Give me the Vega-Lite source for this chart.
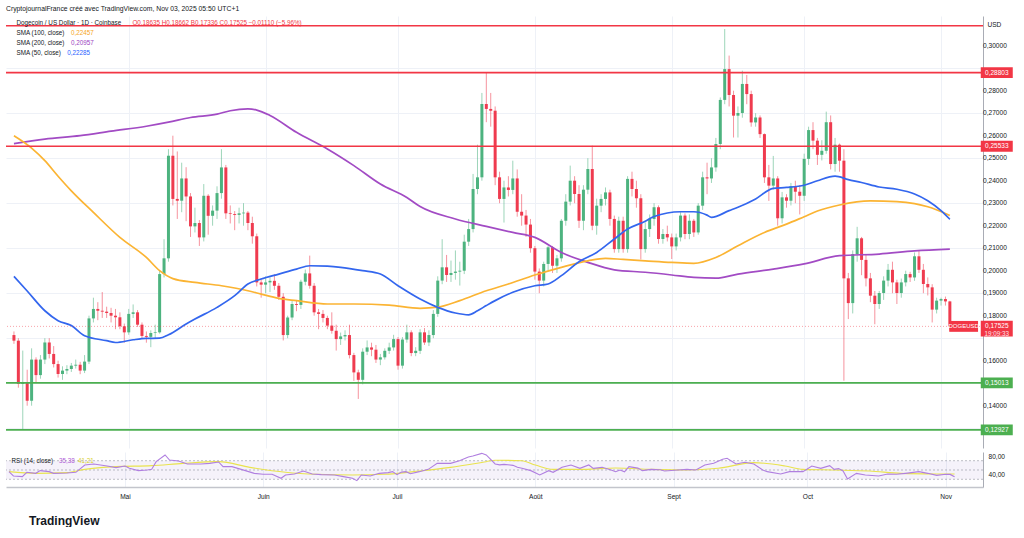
{
  "$schema": "https://vega.github.io/schema/vega-lite/v6.json",
  "background": "#ffffff",
  "padding": {"left": 5, "top": 6, "right": 0, "bottom": 0},
  "config": {
    "font": "Liberation Sans",
    "view": {"stroke": null},
    "locale": {
      "number": {"decimal": ",", "thousands": " ", "grouping": [3], "currency": ["", " €"]},
      "time": {
        "dateTime": "%A %e %B %Y à %X", "date": "%d/%m/%Y", "time": "%H:%M:%S", "periods": ["AM", "PM"],
        "days": ["dimanche", "lundi", "mardi", "mercredi", "jeudi", "vendredi", "samedi"],
        "shortDays": ["dim.", "lun.", "mar.", "mer.", "jeu.", "ven.", "sam."],
        "months": ["janvier", "février", "mars", "avril", "mai", "juin", "juillet", "août", "septembre", "octobre", "novembre", "décembre"],
        "shortMonths": ["Janv", "Févr", "Mars", "Avr", "Mai", "Juin", "Juil", "Août", "Sept", "Oct", "Nov", "Déc"]
      }
    }
  },
  "title": {"text": "CryptojournalFrance créé avec TradingView.com, Nov 03, 2025 05:50 UTC+1", "anchor": "start", "frame": "group", "fontSize": 6.8, "fontWeight": "normal", "color": "#131722", "offset": 3},
  "spacing": 3,
  "datasets": {
    "candles": [
      {"t":"2025-04-05","o":0.1714,"h":0.1730,"l":0.1675,"c":0.1689},
      {"t":"2025-04-06","o":0.1689,"h":0.1700,"l":0.1480,"c":0.1497},
      {"t":"2025-04-07","o":0.1497,"h":0.1645,"l":0.1295,"c":0.1505},
      {"t":"2025-04-08","o":0.1505,"h":0.1560,"l":0.1400,"c":0.1422},
      {"t":"2025-04-09","o":0.1422,"h":0.1655,"l":0.1400,"c":0.1605},
      {"t":"2025-04-10","o":0.1605,"h":0.1615,"l":0.1505,"c":0.1536},
      {"t":"2025-04-11","o":0.1536,"h":0.1625,"l":0.1520,"c":0.1605},
      {"t":"2025-04-12","o":0.1605,"h":0.1700,"l":0.1585,"c":0.1681},
      {"t":"2025-04-13","o":0.1681,"h":0.1700,"l":0.1610,"c":0.1630},
      {"t":"2025-04-14","o":0.1630,"h":0.1665,"l":0.1570,"c":0.1585},
      {"t":"2025-04-15","o":0.1585,"h":0.1600,"l":0.1525,"c":0.1541},
      {"t":"2025-04-16","o":0.1541,"h":0.1575,"l":0.1515,"c":0.1556},
      {"t":"2025-04-17","o":0.1556,"h":0.1580,"l":0.1540,"c":0.1563},
      {"t":"2025-04-18","o":0.1563,"h":0.1590,"l":0.1550,"c":0.1578},
      {"t":"2025-04-19","o":0.1578,"h":0.1605,"l":0.1565,"c":0.1582},
      {"t":"2025-04-20","o":0.1582,"h":0.1595,"l":0.1540,"c":0.1556},
      {"t":"2025-04-21","o":0.1556,"h":0.1625,"l":0.1545,"c":0.1596},
      {"t":"2025-04-22","o":0.1596,"h":0.1800,"l":0.1585,"c":0.1788},
      {"t":"2025-04-23","o":0.1788,"h":0.1880,"l":0.1770,"c":0.1830},
      {"t":"2025-04-24","o":0.1830,"h":0.1860,"l":0.1780,"c":0.1822},
      {"t":"2025-04-25","o":0.1822,"h":0.1905,"l":0.1790,"c":0.1818},
      {"t":"2025-04-26","o":0.1818,"h":0.1840,"l":0.1790,"c":0.1812},
      {"t":"2025-04-27","o":0.1812,"h":0.1835,"l":0.1770,"c":0.1800},
      {"t":"2025-04-28","o":0.1800,"h":0.1830,"l":0.1740,"c":0.1793},
      {"t":"2025-04-29","o":0.1793,"h":0.1815,"l":0.1740,"c":0.1753},
      {"t":"2025-04-30","o":0.1753,"h":0.1765,"l":0.1680,"c":0.1726},
      {"t":"2025-05-01","o":0.1726,"h":0.1830,"l":0.1715,"c":0.1808},
      {"t":"2025-05-02","o":0.1808,"h":0.1850,"l":0.1790,"c":0.1815},
      {"t":"2025-05-03","o":0.1815,"h":0.1825,"l":0.1750,"c":0.1760},
      {"t":"2025-05-04","o":0.1760,"h":0.1770,"l":0.1700,"c":0.1710},
      {"t":"2025-05-05","o":0.1710,"h":0.1730,"l":0.1680,"c":0.1706},
      {"t":"2025-05-06","o":0.1706,"h":0.1735,"l":0.1660,"c":0.1723},
      {"t":"2025-05-07","o":0.1723,"h":0.1760,"l":0.1700,"c":0.1726},
      {"t":"2025-05-08","o":0.1726,"h":0.2000,"l":0.1720,"c":0.1985},
      {"t":"2025-05-09","o":0.1985,"h":0.2140,"l":0.1970,"c":0.2055},
      {"t":"2025-05-10","o":0.2055,"h":0.2540,"l":0.2040,"c":0.2511},
      {"t":"2025-05-11","o":0.2511,"h":0.2600,"l":0.2290,"c":0.2319},
      {"t":"2025-05-12","o":0.2319,"h":0.2530,"l":0.2230,"c":0.2311},
      {"t":"2025-05-13","o":0.2311,"h":0.2480,"l":0.2260,"c":0.2410},
      {"t":"2025-05-14","o":0.2410,"h":0.2460,"l":0.2220,"c":0.2330},
      {"t":"2025-05-15","o":0.2330,"h":0.2345,"l":0.2150,"c":0.2197},
      {"t":"2025-05-16","o":0.2197,"h":0.2280,"l":0.2170,"c":0.2212},
      {"t":"2025-05-17","o":0.2212,"h":0.2225,"l":0.2110,"c":0.2148},
      {"t":"2025-05-18","o":0.2148,"h":0.2385,"l":0.2130,"c":0.2333},
      {"t":"2025-05-19","o":0.2333,"h":0.2340,"l":0.2160,"c":0.2244},
      {"t":"2025-05-20","o":0.2244,"h":0.2290,"l":0.2200,"c":0.2267},
      {"t":"2025-05-21","o":0.2267,"h":0.2375,"l":0.2230,"c":0.2345},
      {"t":"2025-05-22","o":0.2345,"h":0.2540,"l":0.2320,"c":0.2459},
      {"t":"2025-05-23","o":0.2459,"h":0.2470,"l":0.2230,"c":0.2255},
      {"t":"2025-05-24","o":0.2255,"h":0.2290,"l":0.2210,"c":0.2252},
      {"t":"2025-05-25","o":0.2252,"h":0.2265,"l":0.2180,"c":0.2248},
      {"t":"2025-05-26","o":0.2248,"h":0.2280,"l":0.2210,"c":0.2255},
      {"t":"2025-05-27","o":0.2255,"h":0.2300,"l":0.2200,"c":0.2258},
      {"t":"2025-05-28","o":0.2258,"h":0.2265,"l":0.2180,"c":0.2212},
      {"t":"2025-05-29","o":0.2212,"h":0.2240,"l":0.2120,"c":0.2153},
      {"t":"2025-05-30","o":0.2153,"h":0.2165,"l":0.1930,"c":0.1948},
      {"t":"2025-05-31","o":0.1948,"h":0.1965,"l":0.1880,"c":0.1938},
      {"t":"2025-06-01","o":0.1938,"h":0.1975,"l":0.1900,"c":0.1948},
      {"t":"2025-06-02","o":0.1948,"h":0.1970,"l":0.1905,"c":0.1955},
      {"t":"2025-06-03","o":0.1955,"h":0.1985,"l":0.1915,"c":0.1933},
      {"t":"2025-06-04","o":0.1933,"h":0.1945,"l":0.1870,"c":0.1884},
      {"t":"2025-06-05","o":0.1884,"h":0.1900,"l":0.1690,"c":0.1714},
      {"t":"2025-06-06","o":0.1714,"h":0.1800,"l":0.1700,"c":0.1792},
      {"t":"2025-06-07","o":0.1792,"h":0.1865,"l":0.1780,"c":0.1852},
      {"t":"2025-06-08","o":0.1852,"h":0.1870,"l":0.1820,"c":0.1848},
      {"t":"2025-06-09","o":0.1848,"h":0.1960,"l":0.1830,"c":0.1951},
      {"t":"2025-06-10","o":0.1951,"h":0.2005,"l":0.1935,"c":0.1988},
      {"t":"2025-06-11","o":0.1988,"h":0.2067,"l":0.1920,"c":0.1933},
      {"t":"2025-06-12","o":0.1933,"h":0.1945,"l":0.1800,"c":0.1815},
      {"t":"2025-06-13","o":0.1815,"h":0.1830,"l":0.1740,"c":0.1808},
      {"t":"2025-06-14","o":0.1808,"h":0.1825,"l":0.1770,"c":0.1790},
      {"t":"2025-06-15","o":0.1790,"h":0.1800,"l":0.1740,"c":0.1756},
      {"t":"2025-06-16","o":0.1756,"h":0.1815,"l":0.1720,"c":0.1733},
      {"t":"2025-06-17","o":0.1733,"h":0.1760,"l":0.1645,"c":0.1696},
      {"t":"2025-06-18","o":0.1696,"h":0.1725,"l":0.1670,"c":0.1708},
      {"t":"2025-06-19","o":0.1708,"h":0.1735,"l":0.1690,"c":0.1714},
      {"t":"2025-06-20","o":0.1714,"h":0.1760,"l":0.1610,"c":0.1625},
      {"t":"2025-06-21","o":0.1625,"h":0.1635,"l":0.1510,"c":0.1548},
      {"t":"2025-06-22","o":0.1548,"h":0.1560,"l":0.1430,"c":0.1515},
      {"t":"2025-06-23","o":0.1515,"h":0.1655,"l":0.1495,"c":0.1640},
      {"t":"2025-06-24","o":0.1640,"h":0.1690,"l":0.1625,"c":0.1659},
      {"t":"2025-06-25","o":0.1659,"h":0.1680,"l":0.1620,"c":0.1649},
      {"t":"2025-06-26","o":0.1649,"h":0.1670,"l":0.1590,"c":0.1605},
      {"t":"2025-06-27","o":0.1605,"h":0.1630,"l":0.1580,"c":0.1615},
      {"t":"2025-06-28","o":0.1615,"h":0.1655,"l":0.1605,"c":0.1644},
      {"t":"2025-06-29","o":0.1644,"h":0.1680,"l":0.1630,"c":0.1659},
      {"t":"2025-06-30","o":0.1659,"h":0.1715,"l":0.1645,"c":0.1696},
      {"t":"2025-07-01","o":0.1696,"h":0.1705,"l":0.1560,"c":0.1578},
      {"t":"2025-07-02","o":0.1578,"h":0.1705,"l":0.1565,"c":0.1694},
      {"t":"2025-07-03","o":0.1694,"h":0.1760,"l":0.1680,"c":0.1726},
      {"t":"2025-07-04","o":0.1726,"h":0.1735,"l":0.1620,"c":0.1634},
      {"t":"2025-07-05","o":0.1634,"h":0.1660,"l":0.1620,"c":0.1644},
      {"t":"2025-07-06","o":0.1644,"h":0.1740,"l":0.1630,"c":0.1726},
      {"t":"2025-07-07","o":0.1726,"h":0.1745,"l":0.1670,"c":0.1681},
      {"t":"2025-07-08","o":0.1681,"h":0.1735,"l":0.1665,"c":0.1714},
      {"t":"2025-07-09","o":0.1714,"h":0.1825,"l":0.1700,"c":0.1808},
      {"t":"2025-07-10","o":0.1808,"h":0.1975,"l":0.1795,"c":0.1956},
      {"t":"2025-07-11","o":0.1956,"h":0.2140,"l":0.1940,"c":0.2015},
      {"t":"2025-07-12","o":0.2015,"h":0.2070,"l":0.1950,"c":0.1981},
      {"t":"2025-07-13","o":0.1981,"h":0.2045,"l":0.1950,"c":0.1990},
      {"t":"2025-07-14","o":0.1990,"h":0.2090,"l":0.1960,"c":0.1996},
      {"t":"2025-07-15","o":0.1996,"h":0.2040,"l":0.1934,"c":0.2000},
      {"t":"2025-07-16","o":0.2000,"h":0.2160,"l":0.1985,"c":0.2129},
      {"t":"2025-07-17","o":0.2129,"h":0.2230,"l":0.2110,"c":0.2185},
      {"t":"2025-07-18","o":0.2185,"h":0.2430,"l":0.2170,"c":0.2363},
      {"t":"2025-07-19","o":0.2363,"h":0.2560,"l":0.2340,"c":0.2415},
      {"t":"2025-07-20","o":0.2415,"h":0.2790,"l":0.2400,"c":0.2741},
      {"t":"2025-07-21","o":0.2741,"h":0.2882,"l":0.2660,"c":0.2719},
      {"t":"2025-07-22","o":0.2719,"h":0.2790,"l":0.2640,"c":0.2711},
      {"t":"2025-07-23","o":0.2711,"h":0.2730,"l":0.2380,"c":0.2415},
      {"t":"2025-07-24","o":0.2415,"h":0.2440,"l":0.2300,"c":0.2319},
      {"t":"2025-07-25","o":0.2319,"h":0.2400,"l":0.2214,"c":0.2370},
      {"t":"2025-07-26","o":0.2370,"h":0.2420,"l":0.2330,"c":0.2359},
      {"t":"2025-07-27","o":0.2359,"h":0.2489,"l":0.2340,"c":0.2410},
      {"t":"2025-07-28","o":0.2410,"h":0.2450,"l":0.2240,"c":0.2262},
      {"t":"2025-07-29","o":0.2262,"h":0.2340,"l":0.2200,"c":0.2245},
      {"t":"2025-07-30","o":0.2245,"h":0.2270,"l":0.2150,"c":0.2205},
      {"t":"2025-07-31","o":0.2205,"h":0.2230,"l":0.2080,"c":0.2100},
      {"t":"2025-08-01","o":0.2100,"h":0.2110,"l":0.1960,"c":0.1996},
      {"t":"2025-08-02","o":0.1996,"h":0.2010,"l":0.1900,"c":0.1956},
      {"t":"2025-08-03","o":0.1956,"h":0.2040,"l":0.1930,"c":0.2030},
      {"t":"2025-08-04","o":0.2030,"h":0.2110,"l":0.2000,"c":0.2104},
      {"t":"2025-08-05","o":0.2104,"h":0.2110,"l":0.1990,"c":0.2022},
      {"t":"2025-08-06","o":0.2022,"h":0.2070,"l":0.1990,"c":0.2055},
      {"t":"2025-08-07","o":0.2055,"h":0.2230,"l":0.2040,"c":0.2222},
      {"t":"2025-08-08","o":0.2222,"h":0.2340,"l":0.2200,"c":0.2307},
      {"t":"2025-08-09","o":0.2307,"h":0.2467,"l":0.2290,"c":0.2400},
      {"t":"2025-08-10","o":0.2400,"h":0.2420,"l":0.2300,"c":0.2341},
      {"t":"2025-08-11","o":0.2341,"h":0.2380,"l":0.2190,"c":0.2222},
      {"t":"2025-08-12","o":0.2222,"h":0.2380,"l":0.2180,"c":0.2360},
      {"t":"2025-08-13","o":0.2360,"h":0.2500,"l":0.2340,"c":0.2452},
      {"t":"2025-08-14","o":0.2452,"h":0.2556,"l":0.2180,"c":0.2200},
      {"t":"2025-08-15","o":0.2200,"h":0.2320,"l":0.2160,"c":0.2289},
      {"t":"2025-08-16","o":0.2289,"h":0.2340,"l":0.2260,"c":0.2319},
      {"t":"2025-08-17","o":0.2319,"h":0.2370,"l":0.2290,"c":0.2348},
      {"t":"2025-08-18","o":0.2348,"h":0.2360,"l":0.2200,"c":0.2230},
      {"t":"2025-08-19","o":0.2230,"h":0.2245,"l":0.2080,"c":0.2096},
      {"t":"2025-08-20","o":0.2096,"h":0.2240,"l":0.2080,"c":0.2222},
      {"t":"2025-08-21","o":0.2222,"h":0.2240,"l":0.2080,"c":0.2096},
      {"t":"2025-08-22","o":0.2096,"h":0.2420,"l":0.2080,"c":0.2408},
      {"t":"2025-08-23","o":0.2408,"h":0.2440,"l":0.2330,"c":0.2363},
      {"t":"2025-08-24","o":0.2363,"h":0.2400,"l":0.2280,"c":0.2322},
      {"t":"2025-08-25","o":0.2322,"h":0.2340,"l":0.2050,"c":0.2096},
      {"t":"2025-08-26","o":0.2096,"h":0.2215,"l":0.2080,"c":0.2185},
      {"t":"2025-08-27","o":0.2185,"h":0.2250,"l":0.2150,"c":0.2230},
      {"t":"2025-08-28","o":0.2230,"h":0.2300,"l":0.2200,"c":0.2282},
      {"t":"2025-08-29","o":0.2282,"h":0.2290,"l":0.2120,"c":0.2141},
      {"t":"2025-08-30","o":0.2141,"h":0.2185,"l":0.2120,"c":0.2163},
      {"t":"2025-08-31","o":0.2163,"h":0.2200,"l":0.2130,"c":0.2148},
      {"t":"2025-09-01","o":0.2148,"h":0.2165,"l":0.2052,"c":0.2108},
      {"t":"2025-09-02","o":0.2108,"h":0.2165,"l":0.2090,"c":0.2148},
      {"t":"2025-09-03","o":0.2148,"h":0.2260,"l":0.2130,"c":0.2245},
      {"t":"2025-09-04","o":0.2245,"h":0.2255,"l":0.2140,"c":0.2163},
      {"t":"2025-09-05","o":0.2163,"h":0.2250,"l":0.2140,"c":0.2222},
      {"t":"2025-09-06","o":0.2222,"h":0.2230,"l":0.2150,"c":0.2170},
      {"t":"2025-09-07","o":0.2170,"h":0.2300,"l":0.2160,"c":0.2289},
      {"t":"2025-09-08","o":0.2289,"h":0.2440,"l":0.2270,"c":0.2415},
      {"t":"2025-09-09","o":0.2415,"h":0.2480,"l":0.2340,"c":0.2410},
      {"t":"2025-09-10","o":0.2410,"h":0.2500,"l":0.2390,"c":0.2459},
      {"t":"2025-09-11","o":0.2459,"h":0.2590,"l":0.2440,"c":0.2563},
      {"t":"2025-09-12","o":0.2563,"h":0.2770,"l":0.2540,"c":0.2759},
      {"t":"2025-09-13","o":0.2759,"h":0.3074,"l":0.2740,"c":0.2896},
      {"t":"2025-09-14","o":0.2896,"h":0.2956,"l":0.2730,"c":0.2781},
      {"t":"2025-09-15","o":0.2781,"h":0.2800,"l":0.2592,"c":0.2689},
      {"t":"2025-09-16","o":0.2689,"h":0.2730,"l":0.2592,"c":0.2701},
      {"t":"2025-09-17","o":0.2701,"h":0.2889,"l":0.2680,"c":0.2830},
      {"t":"2025-09-18","o":0.2830,"h":0.2870,"l":0.2740,"c":0.2785},
      {"t":"2025-09-19","o":0.2785,"h":0.2800,"l":0.2640,"c":0.2659},
      {"t":"2025-09-20","o":0.2659,"h":0.2700,"l":0.2640,"c":0.2681},
      {"t":"2025-09-21","o":0.2681,"h":0.2690,"l":0.2590,"c":0.2607},
      {"t":"2025-09-22","o":0.2607,"h":0.2610,"l":0.2390,"c":0.2415},
      {"t":"2025-09-23","o":0.2415,"h":0.2470,"l":0.2310,"c":0.2378},
      {"t":"2025-09-24","o":0.2378,"h":0.2510,"l":0.2360,"c":0.2410},
      {"t":"2025-09-25","o":0.2410,"h":0.2420,"l":0.2200,"c":0.2233},
      {"t":"2025-09-26","o":0.2233,"h":0.2350,"l":0.2210,"c":0.2326},
      {"t":"2025-09-27","o":0.2326,"h":0.2340,"l":0.2280,"c":0.2311},
      {"t":"2025-09-28","o":0.2311,"h":0.2390,"l":0.2290,"c":0.2375},
      {"t":"2025-09-29","o":0.2375,"h":0.2400,"l":0.2300,"c":0.2351},
      {"t":"2025-09-30","o":0.2351,"h":0.2380,"l":0.2250,"c":0.2333},
      {"t":"2025-10-01","o":0.2333,"h":0.2520,"l":0.2310,"c":0.2497},
      {"t":"2025-10-02","o":0.2497,"h":0.2640,"l":0.2470,"c":0.2625},
      {"t":"2025-10-03","o":0.2625,"h":0.2660,"l":0.2540,"c":0.2578},
      {"t":"2025-10-04","o":0.2578,"h":0.2590,"l":0.2470,"c":0.2515},
      {"t":"2025-10-05","o":0.2515,"h":0.2580,"l":0.2490,"c":0.2533},
      {"t":"2025-10-06","o":0.2533,"h":0.2707,"l":0.2520,"c":0.2660},
      {"t":"2025-10-07","o":0.2660,"h":0.2690,"l":0.2450,"c":0.2474},
      {"t":"2025-10-08","o":0.2474,"h":0.2590,"l":0.2440,"c":0.2560},
      {"t":"2025-10-09","o":0.2560,"h":0.2565,"l":0.2440,"c":0.2489},
      {"t":"2025-10-10","o":0.2489,"h":0.2540,"l":0.1511,"c":0.1966},
      {"t":"2025-10-11","o":0.1966,"h":0.1990,"l":0.1785,"c":0.1856},
      {"t":"2025-10-12","o":0.1856,"h":0.2090,"l":0.1810,"c":0.2074},
      {"t":"2025-10-13","o":0.2074,"h":0.2195,"l":0.2040,"c":0.2144},
      {"t":"2025-10-14","o":0.2144,"h":0.2150,"l":0.1980,"c":0.2048},
      {"t":"2025-10-15","o":0.2048,"h":0.2070,"l":0.1930,"c":0.1966},
      {"t":"2025-10-16","o":0.1966,"h":0.1990,"l":0.1860,"c":0.1889},
      {"t":"2025-10-17","o":0.1889,"h":0.1910,"l":0.1762,"c":0.1852},
      {"t":"2025-10-18","o":0.1852,"h":0.1910,"l":0.1830,"c":0.1901},
      {"t":"2025-10-19","o":0.1901,"h":0.1975,"l":0.1870,"c":0.1956},
      {"t":"2025-10-20","o":0.1956,"h":0.2030,"l":0.1930,"c":0.2004},
      {"t":"2025-10-21","o":0.2004,"h":0.2040,"l":0.1900,"c":0.1948},
      {"t":"2025-10-22","o":0.1948,"h":0.1960,"l":0.1852,"c":0.1901},
      {"t":"2025-10-23","o":0.1901,"h":0.1965,"l":0.1880,"c":0.1948},
      {"t":"2025-10-24","o":0.1948,"h":0.2000,"l":0.1930,"c":0.1985},
      {"t":"2025-10-25","o":0.1985,"h":0.1995,"l":0.1950,"c":0.1970},
      {"t":"2025-10-26","o":0.1970,"h":0.2081,"l":0.1955,"c":0.2064},
      {"t":"2025-10-27","o":0.2064,"h":0.2090,"l":0.1990,"c":0.2004},
      {"t":"2025-10-28","o":0.2004,"h":0.2030,"l":0.1900,"c":0.1941},
      {"t":"2025-10-29","o":0.1941,"h":0.1970,"l":0.1890,"c":0.1926},
      {"t":"2025-10-30","o":0.1926,"h":0.1940,"l":0.1770,"c":0.1827},
      {"t":"2025-10-31","o":0.1827,"h":0.1880,"l":0.1810,"c":0.1867},
      {"t":"2025-11-01","o":0.1867,"h":0.1880,"l":0.1845,"c":0.1874},
      {"t":"2025-11-02","o":0.1874,"h":0.1885,"l":0.1845,"c":0.18635},
      {"t":"2025-11-03","o":0.18635,"h":0.18662,"l":0.17336,"c":0.17525}
    ],
    "sma200": [
      {"t":"2025-04-05","v":0.2565},{"t":"2025-04-12","v":0.2585},{"t":"2025-04-20","v":0.2600},{"t":"2025-04-27","v":0.2620},
      {"t":"2025-05-05","v":0.2642},{"t":"2025-05-10","v":0.2660},{"t":"2025-05-15","v":0.2681},{"t":"2025-05-21","v":0.2696},
      {"t":"2025-05-24","v":0.2711},{"t":"2025-05-28","v":0.2719},{"t":"2025-05-30","v":0.2714},{"t":"2025-06-02","v":0.2690},
      {"t":"2025-06-08","v":0.2615},{"t":"2025-06-15","v":0.2541},{"t":"2025-06-21","v":0.2467},{"t":"2025-06-27","v":0.2385},
      {"t":"2025-07-03","v":0.2325},{"t":"2025-07-06","v":0.2285},{"t":"2025-07-14","v":0.2230},{"t":"2025-07-21","v":0.2197},
      {"t":"2025-07-27","v":0.2170},{"t":"2025-08-01","v":0.2148},{"t":"2025-08-07","v":0.2081},{"t":"2025-08-13","v":0.2037},
      {"t":"2025-08-19","v":0.2004},{"t":"2025-08-26","v":0.1993},{"t":"2025-09-01","v":0.1981},{"t":"2025-09-06","v":0.1970},
      {"t":"2025-09-11","v":0.1967},{"t":"2025-09-16","v":0.1985},{"t":"2025-09-24","v":0.2007},{"t":"2025-10-01","v":0.2030},
      {"t":"2025-10-09","v":0.2067},{"t":"2025-10-18","v":0.2074},{"t":"2025-10-26","v":0.2088},{"t":"2025-11-03","v":0.20957}
    ],
    "sma100": [
      {"t":"2025-04-05","v":0.2600},{"t":"2025-04-09","v":0.2545},{"t":"2025-04-12","v":0.2489},{"t":"2025-04-15","v":0.2420},
      {"t":"2025-04-18","v":0.2355},{"t":"2025-04-23","v":0.2259},{"t":"2025-04-29","v":0.2148},{"t":"2025-05-05","v":0.2059},
      {"t":"2025-05-08","v":0.2000},{"t":"2025-05-11","v":0.1965},{"t":"2025-05-16","v":0.1948},{"t":"2025-05-22","v":0.1933},
      {"t":"2025-05-28","v":0.1911},{"t":"2025-05-31","v":0.1896},{"t":"2025-06-04","v":0.1877},{"t":"2025-06-08","v":0.1867},
      {"t":"2025-06-15","v":0.1852},{"t":"2025-06-21","v":0.1852},{"t":"2025-06-29","v":0.1847},{"t":"2025-07-06","v":0.1833},
      {"t":"2025-07-10","v":0.1838},{"t":"2025-07-15","v":0.1867},{"t":"2025-07-21","v":0.1911},{"t":"2025-07-26","v":0.1941},
      {"t":"2025-08-01","v":0.1981},{"t":"2025-08-07","v":0.2015},{"t":"2025-08-13","v":0.2044},{"t":"2025-08-17","v":0.2055},
      {"t":"2025-08-21","v":0.2050},{"t":"2025-08-26","v":0.2044},{"t":"2025-09-01","v":0.2037},{"t":"2025-09-06","v":0.2033},
      {"t":"2025-09-11","v":0.2059},{"t":"2025-09-16","v":0.2111},{"t":"2025-09-22","v":0.2170},{"t":"2025-09-27","v":0.2207},
      {"t":"2025-10-01","v":0.2240},{"t":"2025-10-04","v":0.2265},{"t":"2025-10-09","v":0.2292},{"t":"2025-10-16","v":0.2310},
      {"t":"2025-10-22","v":0.2307},{"t":"2025-10-26","v":0.2298},{"t":"2025-10-29","v":0.2284},{"t":"2025-11-03","v":0.22457}
    ],
    "sma50": [
      {"t":"2025-04-05","v":0.1975},{"t":"2025-04-08","v":0.1910},{"t":"2025-04-12","v":0.1822},{"t":"2025-04-15","v":0.1778},
      {"t":"2025-04-18","v":0.1756},{"t":"2025-04-21","v":0.1711},{"t":"2025-04-26","v":0.1689},{"t":"2025-04-28","v":0.1681},
      {"t":"2025-05-02","v":0.1693},{"t":"2025-05-05","v":0.1699},{"t":"2025-05-08","v":0.1700},{"t":"2025-05-10","v":0.1715},
      {"t":"2025-05-14","v":0.1763},{"t":"2025-05-16","v":0.1785},{"t":"2025-05-21","v":0.1837},{"t":"2025-05-25","v":0.1889},
      {"t":"2025-05-28","v":0.1941},{"t":"2025-05-31","v":0.1963},{"t":"2025-06-04","v":0.1985},{"t":"2025-06-08","v":0.2007},
      {"t":"2025-06-11","v":0.2022},{"t":"2025-06-15","v":0.2020},{"t":"2025-06-18","v":0.2015},{"t":"2025-06-23","v":0.2000},
      {"t":"2025-06-27","v":0.1985},{"t":"2025-07-01","v":0.1933},{"t":"2025-07-06","v":0.1874},{"t":"2025-07-10","v":0.1837},
      {"t":"2025-07-14","v":0.1812},{"t":"2025-07-17","v":0.1804},{"t":"2025-07-19","v":0.1822},{"t":"2025-07-21","v":0.1845},
      {"t":"2025-07-23","v":0.1867},{"t":"2025-07-27","v":0.1904},{"t":"2025-08-01","v":0.1933},{"t":"2025-08-04","v":0.1941},
      {"t":"2025-08-07","v":0.1978},{"t":"2025-08-11","v":0.2040},{"t":"2025-08-15","v":0.2081},{"t":"2025-08-19","v":0.2141},
      {"t":"2025-08-22","v":0.2185},{"t":"2025-08-26","v":0.2220},{"t":"2025-08-28","v":0.2241},{"t":"2025-09-03","v":0.2262},
      {"t":"2025-09-06","v":0.2262},{"t":"2025-09-09","v":0.2247},{"t":"2025-09-10","v":0.2237},{"t":"2025-09-14","v":0.2267},
      {"t":"2025-09-16","v":0.2282},{"t":"2025-09-20","v":0.2319},{"t":"2025-09-24","v":0.2366},{"t":"2025-09-27","v":0.2370},
      {"t":"2025-10-01","v":0.2380},{"t":"2025-10-04","v":0.2400},{"t":"2025-10-08","v":0.2420},{"t":"2025-10-11","v":0.2405},
      {"t":"2025-10-14","v":0.2392},{"t":"2025-10-18","v":0.2372},{"t":"2025-10-22","v":0.2362},{"t":"2025-10-26","v":0.2341},
      {"t":"2025-10-29","v":0.2311},{"t":"2025-11-01","v":0.2267},{"t":"2025-11-03","v":0.22285}
    ],
    "levels": [
      {"p":0.3089,"kind":"résistance"},{"p":0.28803,"kind":"résistance"},{"p":0.25533,"kind":"résistance"},
      {"p":0.15013,"kind":"support"},{"p":0.12927,"kind":"support"}
    ],
    "pricelabels": [
      {"v":0.14},{"v":0.16},{"v":0.18},{"v":0.19},{"v":0.20},{"v":0.21},{"v":0.22},{"v":0.23},
      {"v":0.24},{"v":0.25},{"v":0.26},{"v":0.27},{"v":0.28},{"v":0.30}
    ],
    "rsi": [
      {"t":"2025-04-05","r":46.4},{"t":"2025-04-06","r":37.1},{"t":"2025-04-08","r":35.7},{"t":"2025-04-09","r":45},
      {"t":"2025-04-11","r":42.8},{"t":"2025-04-12","r":48.6},{"t":"2025-04-14","r":46.4},{"t":"2025-04-15","r":42.8},
      {"t":"2025-04-18","r":43.5},{"t":"2025-04-20","r":45},{"t":"2025-04-22","r":60.8},{"t":"2025-04-24","r":62.9},
      {"t":"2025-04-27","r":58.6},{"t":"2025-04-29","r":55},{"t":"2025-05-01","r":58.6},{"t":"2025-05-02","r":53.6},
      {"t":"2025-05-04","r":48.6},{"t":"2025-05-06","r":50},{"t":"2025-05-07","r":51.4},{"t":"2025-05-08","r":67.9},
      {"t":"2025-05-10","r":82.3},{"t":"2025-05-11","r":71.5},{"t":"2025-05-13","r":69.3},{"t":"2025-05-15","r":62.9},
      {"t":"2025-05-18","r":62.9},{"t":"2025-05-20","r":64.3},{"t":"2025-05-22","r":67.2},{"t":"2025-05-23","r":57.2},
      {"t":"2025-05-25","r":57.2},{"t":"2025-05-28","r":48.6},{"t":"2025-05-30","r":42.8},{"t":"2025-06-01","r":40.7},
      {"t":"2025-06-03","r":40.7},{"t":"2025-06-05","r":32.1},{"t":"2025-06-06","r":39.3},{"t":"2025-06-08","r":41.4},
      {"t":"2025-06-10","r":47.8},{"t":"2025-06-12","r":41.4},{"t":"2025-06-14","r":40},{"t":"2025-06-17","r":39.3},
      {"t":"2025-06-19","r":35.7},{"t":"2025-06-21","r":32.1},{"t":"2025-06-22","r":27.1},{"t":"2025-06-23","r":39.3},
      {"t":"2025-06-25","r":37.1},{"t":"2025-06-27","r":42.8},{"t":"2025-06-29","r":44.3},{"t":"2025-06-30","r":46.4},
      {"t":"2025-07-01","r":40},{"t":"2025-07-02","r":45.5},{"t":"2025-07-03","r":46.4},{"t":"2025-07-04","r":42},
      {"t":"2025-07-06","r":46.4},{"t":"2025-07-08","r":51.4},{"t":"2025-07-10","r":64.3},{"t":"2025-07-13","r":64.3},
      {"t":"2025-07-15","r":70},{"t":"2025-07-17","r":78},{"t":"2025-07-18","r":80.1},{"t":"2025-07-20","r":85.8},
      {"t":"2025-07-21","r":82.3},{"t":"2025-07-23","r":62.9},{"t":"2025-07-24","r":61},{"t":"2025-07-25","r":62},
      {"t":"2025-07-27","r":60},{"t":"2025-07-28","r":55.7},{"t":"2025-07-29","r":53.6},{"t":"2025-07-31","r":48.6},
      {"t":"2025-08-02","r":39.3},{"t":"2025-08-04","r":48.6},{"t":"2025-08-05","r":45},{"t":"2025-08-07","r":55.7},
      {"t":"2025-08-09","r":60.8},{"t":"2025-08-11","r":53.6},{"t":"2025-08-13","r":60.8},{"t":"2025-08-14","r":53.6},
      {"t":"2025-08-16","r":55.7},{"t":"2025-08-18","r":50},{"t":"2025-08-19","r":46.4},{"t":"2025-08-20","r":50},
      {"t":"2025-08-21","r":46},{"t":"2025-08-22","r":57.2},{"t":"2025-08-24","r":54},{"t":"2025-08-25","r":48.6},
      {"t":"2025-08-27","r":51.4},{"t":"2025-08-29","r":50.5},{"t":"2025-08-30","r":47.8},{"t":"2025-09-02","r":50},
      {"t":"2025-09-04","r":51.4},{"t":"2025-09-06","r":50},{"t":"2025-09-08","r":60.8},{"t":"2025-09-10","r":64.3},
      {"t":"2025-09-12","r":73},{"t":"2025-09-13","r":75.1},{"t":"2025-09-15","r":62.9},{"t":"2025-09-17","r":66.5},
      {"t":"2025-09-19","r":62.9},{"t":"2025-09-21","r":50},{"t":"2025-09-22","r":46.4},{"t":"2025-09-25","r":41.4},
      {"t":"2025-09-27","r":46.4},{"t":"2025-09-30","r":46.4},{"t":"2025-10-02","r":58.6},{"t":"2025-10-04","r":53.6},
      {"t":"2025-10-06","r":59.3},{"t":"2025-10-07","r":51.4},{"t":"2025-10-08","r":53},{"t":"2025-10-09","r":48},
      {"t":"2025-10-10","r":30.6},{"t":"2025-10-12","r":42.8},{"t":"2025-10-14","r":39.3},{"t":"2025-10-17","r":37.1},
      {"t":"2025-10-19","r":41.4},{"t":"2025-10-21","r":40.7},{"t":"2025-10-23","r":42.8},{"t":"2025-10-26","r":46.4},
      {"t":"2025-10-28","r":42.8},{"t":"2025-10-30","r":38.5},{"t":"2025-11-01","r":40.7},{"t":"2025-11-02","r":40.5},
      {"t":"2025-11-03","r":35.38}
    ],
    "rsima": [
      {"t":"2025-04-05","r":46.4},{"t":"2025-04-11","r":42.8},{"t":"2025-04-18","r":44.3},{"t":"2025-04-22","r":51.4},
      {"t":"2025-04-29","r":57.2},{"t":"2025-05-07","r":59.3},{"t":"2025-05-14","r":64.3},{"t":"2025-05-22","r":67.9},
      {"t":"2025-05-29","r":55.7},{"t":"2025-06-06","r":45},{"t":"2025-06-13","r":40.7},{"t":"2025-06-21","r":39.3},
      {"t":"2025-06-28","r":40.7},{"t":"2025-07-06","r":47.8},{"t":"2025-07-13","r":55.7},{"t":"2025-07-21","r":67.9},
      {"t":"2025-07-23","r":71},{"t":"2025-07-29","r":70},{"t":"2025-08-01","r":60.8},{"t":"2025-08-05","r":51.4},
      {"t":"2025-08-12","r":51.4},{"t":"2025-08-19","r":54.3},{"t":"2025-08-27","r":51.4},{"t":"2025-09-04","r":50},
      {"t":"2025-09-11","r":53.6},{"t":"2025-09-19","r":65.8},{"t":"2025-09-26","r":58.6},{"t":"2025-09-30","r":51.4},
      {"t":"2025-10-07","r":50},{"t":"2025-10-15","r":47.8},{"t":"2025-10-22","r":42.8},{"t":"2025-10-30","r":41.4},
      {"t":"2025-11-03","r":41.21}
    ]
  },
  "vconcat": [
    {
      "width": 977,
      "height": 432,
      "layer": [
        {
          "data": {"name": "candles"},
          "mark": {"type": "rule", "strokeWidth": 1, "opacity": 0.55},
          "encoding": {
            "x": {"field": "t", "type": "temporal", "scale": {"type": "utc", "domain": [{"year": 2025, "month": 4, "date": 4, "hours": 8, "utc": true}, {"year": 2025, "month": 11, "date": 9, "hours": 9, "utc": true}]},
              "axis": {"orient": "bottom", "values": [{"year": 2025, "month": 5, "date": 1, "utc": true}, {"year": 2025, "month": 6, "date": 1, "utc": true}, {"year": 2025, "month": 7, "date": 1, "utc": true}, {"year": 2025, "month": 8, "date": 1, "utc": true}, {"year": 2025, "month": 9, "date": 1, "utc": true}, {"year": 2025, "month": 10, "date": 1, "utc": true}, {"year": 2025, "month": 11, "date": 1, "utc": true}], "labels": false, "ticks": false, "domain": false, "grid": true, "gridColor": "#eef1f7", "title": null}},
            "y": {"field": "l", "type": "quantitative", "scale": {"domain": [0.1212, 0.3132], "zero": false, "nice": false},
              "axis": {"orient": "right", "values": [0.13, 0.14, 0.15, 0.16, 0.17, 0.18, 0.19, 0.2, 0.21, 0.22, 0.23, 0.24, 0.25, 0.26, 0.27, 0.28, 0.29, 0.3], "labels": false, "grid": true, "gridColor": "#eef1f7", "ticks": false, "domain": true, "domainColor": "#a9acb5", "title": null}},
            "y2": {"field": "h"},
            "color": {"condition": {"test": "datum.c < datum.o", "value": "#ef3b4f"}, "value": "#4db37f"}
          }
        },
        {
          "data": {"name": "candles"},
          "mark": {"type": "bar", "size": 3},
          "encoding": {
            "x": {"field": "t", "type": "temporal"},
            "y": {"field": "o", "type": "quantitative"},
            "y2": {"field": "c"},
            "color": {"condition": {"test": "datum.c < datum.o", "value": "#ef3b4f"}, "value": "#4db37f"}
          }
        },
        {
          "data": {"name": "sma200"},
          "mark": {"type": "line", "color": "#a24bc4", "strokeWidth": 1.7, "interpolate": "monotone"},
          "encoding": {"x": {"field": "t", "type": "temporal"}, "y": {"field": "v", "type": "quantitative"}}
        },
        {
          "data": {"name": "sma100"},
          "mark": {"type": "line", "color": "#fbb433", "strokeWidth": 1.7, "interpolate": "monotone"},
          "encoding": {"x": {"field": "t", "type": "temporal"}, "y": {"field": "v", "type": "quantitative"}}
        },
        {
          "data": {"name": "sma50"},
          "mark": {"type": "line", "color": "#3366ee", "strokeWidth": 1.7, "interpolate": "monotone"},
          "encoding": {"x": {"field": "t", "type": "temporal"}, "y": {"field": "v", "type": "quantitative"}}
        },
        {
          "data": {"name": "levels"},
          "mark": {"type": "rule", "strokeWidth": 1.6},
          "encoding": {
            "y": {"field": "p", "type": "quantitative"},
            "color": {"condition": {"test": "datum.p > 0.2", "value": "#f23645"}, "value": "#4caf50"}
          }
        },
        {
          "data": {"values": [{}]},
          "mark": {"type": "rule", "color": "#f23645", "strokeDash": [1, 2], "opacity": 0.45},
          "encoding": {"y": {"datum": 0.17525, "type": "quantitative"}}
        },
        {
          "data": {"name": "pricelabels"},
          "mark": {"type": "text", "color": "#131722", "fontSize": 6.6, "align": "left", "baseline": "middle"},
          "encoding": {
            "x": {"datum": {"year": 2025, "month": 11, "date": 10, "hours": 12, "utc": true}, "type": "temporal"},
            "y": {"field": "v", "type": "quantitative"},
            "text": {"field": "v", "type": "quantitative", "format": ".5f"}
          }
        },
        {
          "data": {"name": "levels"},
          "transform": [{"filter": "datum.p < 0.3"}],
          "mark": {"type": "point", "shape": "M-1,-0.34H1V0.34H-1Z", "filled": true, "size": 1024, "opacity": 1},
          "encoding": {
            "x": {"datum": {"year": 2025, "month": 11, "date": 13, "hours": 15, "utc": true}, "type": "temporal"},
            "y": {"field": "p", "type": "quantitative"},
            "color": {"condition": {"test": "datum.p > 0.2", "value": "#f23645"}, "value": "#4caf50"}
          }
        },
        {
          "data": {"name": "levels"},
          "transform": [{"filter": "datum.p < 0.3"}],
          "mark": {"type": "text", "color": "#ffffff", "fontSize": 6.5, "align": "center", "baseline": "middle"},
          "encoding": {
            "x": {"datum": {"year": 2025, "month": 11, "date": 13, "hours": 15, "utc": true}, "type": "temporal"},
            "y": {"field": "p", "type": "quantitative"},
            "text": {"field": "p", "type": "quantitative", "format": ".5f"}
          }
        },
        {
          "data": {"values": [{}]},
          "mark": {"type": "point", "shape": "M-1,-0.35H1V0.63H-1Z", "filled": true, "size": 1024, "opacity": 1, "color": "#f23645"},
          "encoding": {
            "x": {"datum": {"year": 2025, "month": 11, "date": 13, "hours": 15, "utc": true}, "type": "temporal"},
            "y": {"datum": 0.17525, "type": "quantitative"}
          }
        },
        {
          "data": {"values": [{}]},
          "mark": {"type": "text", "color": "#ffffff", "fontSize": 6.5, "align": "center", "baseline": "middle", "text": "0,17525"},
          "encoding": {
            "x": {"datum": {"year": 2025, "month": 11, "date": 13, "hours": 15, "utc": true}, "type": "temporal"},
            "y": {"datum": 0.17525, "type": "quantitative"}
          }
        },
        {
          "data": {"values": [{}]},
          "mark": {"type": "text", "color": "#fde3e6", "fontSize": 6.3, "align": "center", "baseline": "middle", "dy": 7.5, "text": "19:09:33"},
          "encoding": {
            "x": {"datum": {"year": 2025, "month": 11, "date": 13, "hours": 15, "utc": true}, "type": "temporal"},
            "y": {"datum": 0.17525, "type": "quantitative"}
          }
        },
        {
          "data": {"values": [{}]},
          "mark": {"type": "point", "shape": "M-0.9,-0.34H0.9V0.34H-0.9Z", "filled": true, "size": 1024, "opacity": 1, "color": "#f23645"},
          "encoding": {
            "x": {"datum": {"year": 2025, "month": 11, "date": 6, "hours": 3, "utc": true}, "type": "temporal"},
            "y": {"datum": 0.17525, "type": "quantitative"}
          }
        },
        {
          "data": {"values": [{}]},
          "mark": {"type": "text", "color": "#ffffff", "fontSize": 6, "align": "center", "baseline": "middle", "text": "DOGEUSD"},
          "encoding": {
            "x": {"datum": {"year": 2025, "month": 11, "date": 6, "hours": 3, "utc": true}, "type": "temporal"},
            "y": {"datum": 0.17525, "type": "quantitative"}
          }
        },
        {
          "data": {"values": [{}]},
          "mark": {"type": "text", "color": "#131722", "fontSize": 6.6, "align": "left", "baseline": "middle", "text": "USD"},
          "encoding": {
            "x": {"datum": {"year": 2025, "month": 11, "date": 11, "hours": 12, "utc": true}, "type": "temporal"},
            "y": {"datum": 0.3094, "type": "quantitative"}
          }
        },
        {
          "data": {"values": [{}]},
          "mark": {"type": "text", "color": "#131722", "fontSize": 6.3, "align": "left", "baseline": "middle", "text": "Dogecoin / US Dollar · 1D · Coinbase"},
          "encoding": {
            "x": {"datum": {"year": 2025, "month": 4, "date": 5, "hours": 14, "utc": true}, "type": "temporal"},
            "y": {"datum": 0.30996, "type": "quantitative"}
          }
        },
        {
          "data": {"values": [{}]},
          "mark": {"type": "text", "color": "#f23645", "fontSize": 6.3, "align": "left", "baseline": "middle", "text": "O0,18635  H0,18662  B0,17336  C0,17525  −0,01110 (−5,96%)"},
          "encoding": {
            "x": {"datum": {"year": 2025, "month": 5, "date": 1, "hours": 20, "utc": true}, "type": "temporal"},
            "y": {"datum": 0.30996, "type": "quantitative"}
          }
        },
        {
          "data": {"values": [{}]},
          "mark": {"type": "text", "color": "#131722", "fontSize": 6.3, "align": "left", "baseline": "middle", "text": "SMA (100, close)"},
          "encoding": {
            "x": {"datum": {"year": 2025, "month": 4, "date": 5, "hours": 14, "utc": true}, "type": "temporal"},
            "y": {"datum": 0.30551, "type": "quantitative"}
          }
        },
        {
          "data": {"values": [{}]},
          "mark": {"type": "text", "color": "#131722", "fontSize": 6.3, "align": "left", "baseline": "middle", "text": "SMA (200, close)"},
          "encoding": {
            "x": {"datum": {"year": 2025, "month": 4, "date": 5, "hours": 14, "utc": true}, "type": "temporal"},
            "y": {"datum": 0.30107, "type": "quantitative"}
          }
        },
        {
          "data": {"values": [{}]},
          "mark": {"type": "text", "color": "#131722", "fontSize": 6.3, "align": "left", "baseline": "middle", "text": "SMA (50, close)"},
          "encoding": {
            "x": {"datum": {"year": 2025, "month": 4, "date": 5, "hours": 14, "utc": true}, "type": "temporal"},
            "y": {"datum": 0.29676, "type": "quantitative"}
          }
        },
        {
          "data": {"values": [{}]},
          "mark": {"type": "text", "color": "#f5a623", "fontSize": 6.3, "align": "left", "baseline": "middle", "text": "0,22457"},
          "encoding": {
            "x": {"datum": {"year": 2025, "month": 4, "date": 17, "hours": 22, "utc": true}, "type": "temporal"},
            "y": {"datum": 0.30551, "type": "quantitative"}
          }
        },
        {
          "data": {"values": [{}]},
          "mark": {"type": "text", "color": "#9c3fbf", "fontSize": 6.3, "align": "left", "baseline": "middle", "text": "0,20957"},
          "encoding": {
            "x": {"datum": {"year": 2025, "month": 4, "date": 17, "hours": 22, "utc": true}, "type": "temporal"},
            "y": {"datum": 0.30107, "type": "quantitative"}
          }
        },
        {
          "data": {"values": [{}]},
          "mark": {"type": "text", "color": "#2962ff", "fontSize": 6.3, "align": "left", "baseline": "middle", "text": "0,22285"},
          "encoding": {
            "x": {"datum": {"year": 2025, "month": 4, "date": 17, "hours": 2, "utc": true}, "type": "temporal"},
            "y": {"datum": 0.29676, "type": "quantitative"}
          }
        }
      ]
    },
    {
      "width": 977,
      "height": 35,
      "title": {"text": "TradingView", "orient": "bottom", "anchor": "start", "frame": "group", "fontSize": 12, "fontWeight": "bold", "color": "#131722", "offset": 16, "dx": 23},
      "layer": [
        {
          "data": {"values": [{}]},
          "mark": {"type": "rect", "color": "#7e57c2", "opacity": 0.08},
          "encoding": {
            "x": {"datum": {"year": 2025, "month": 4, "date": 4, "hours": 8, "utc": true}, "type": "temporal"},
            "x2": {"datum": {"year": 2025, "month": 11, "date": 9, "hours": 9, "utc": true}},
            "y": {"datum": 70, "type": "quantitative"},
            "y2": {"datum": 30}
          }
        },
        {
          "data": {"values": [{"r": 70}, {"r": 50}, {"r": 30}]},
          "mark": {"type": "rule", "color": "#787b86", "strokeDash": [2, 2], "strokeWidth": 0.8, "opacity": 0.6},
          "encoding": {"y": {"field": "r", "type": "quantitative"}}
        },
        {
          "data": {"name": "rsima"},
          "mark": {"type": "line", "color": "#e9e34e", "strokeWidth": 1.1, "interpolate": "monotone"},
          "encoding": {"x": {"field": "t", "type": "temporal"}, "y": {"field": "r", "type": "quantitative"}}
        },
        {
          "data": {"name": "rsi"},
          "mark": {"type": "line", "color": "#b07fe0", "strokeWidth": 1.1},
          "encoding": {
            "x": {"field": "t", "type": "temporal", "scale": {"type": "utc", "domain": [{"year": 2025, "month": 4, "date": 4, "hours": 8, "utc": true}, {"year": 2025, "month": 11, "date": 9, "hours": 9, "utc": true}]},
              "axis": {"orient": "bottom", "values": [{"year": 2025, "month": 5, "date": 1, "utc": true}, {"year": 2025, "month": 6, "date": 1, "utc": true}, {"year": 2025, "month": 7, "date": 1, "utc": true}, {"year": 2025, "month": 8, "date": 1, "utc": true}, {"year": 2025, "month": 9, "date": 1, "utc": true}, {"year": 2025, "month": 10, "date": 1, "utc": true}, {"year": 2025, "month": 11, "date": 1, "utc": true}], "format": "%b", "grid": true, "gridColor": "#eef1f7", "ticks": false, "domain": true, "domainColor": "#c3c5cc", "domainWidth": 1.5, "labelFontSize": 6.6, "labelColor": "#131722", "labelPadding": 6, "title": null}},
            "y": {"field": "r", "type": "quantitative", "scale": {"domain": [13.4, 88.7], "zero": false, "nice": false},
              "axis": {"orient": "right", "values": [40, 80], "format": ".2f", "grid": false, "ticks": false, "domain": true, "domainColor": "#a9acb5", "labelFontSize": 6.6, "labelColor": "#131722", "labelPadding": 5, "title": null}}
          }
        },
        {
          "data": {"values": [{}]},
          "mark": {"type": "text", "color": "#131722", "fontSize": 6.3, "align": "left", "baseline": "middle", "text": "RSI (14, close)"},
          "encoding": {
            "x": {"datum": {"year": 2025, "month": 4, "date": 5, "hours": 14, "utc": true}, "type": "temporal"},
            "y": {"datum": 69.4, "type": "quantitative"}
          }
        },
        {
          "data": {"values": [{}]},
          "mark": {"type": "text", "color": "#b060d8", "fontSize": 6.3, "align": "left", "baseline": "middle", "text": "35,38"},
          "encoding": {
            "x": {"datum": {"year": 2025, "month": 4, "date": 16, "hours": 5, "utc": true}, "type": "temporal"},
            "y": {"datum": 69.4, "type": "quantitative"}
          }
        },
        {
          "data": {"values": [{}]},
          "mark": {"type": "text", "color": "#d8cf2a", "fontSize": 6.3, "align": "left", "baseline": "middle", "text": "41,21"},
          "encoding": {
            "x": {"datum": {"year": 2025, "month": 4, "date": 20, "hours": 12, "utc": true}, "type": "temporal"},
            "y": {"datum": 69.4, "type": "quantitative"}
          }
        }
      ]
    }
  ]
}
